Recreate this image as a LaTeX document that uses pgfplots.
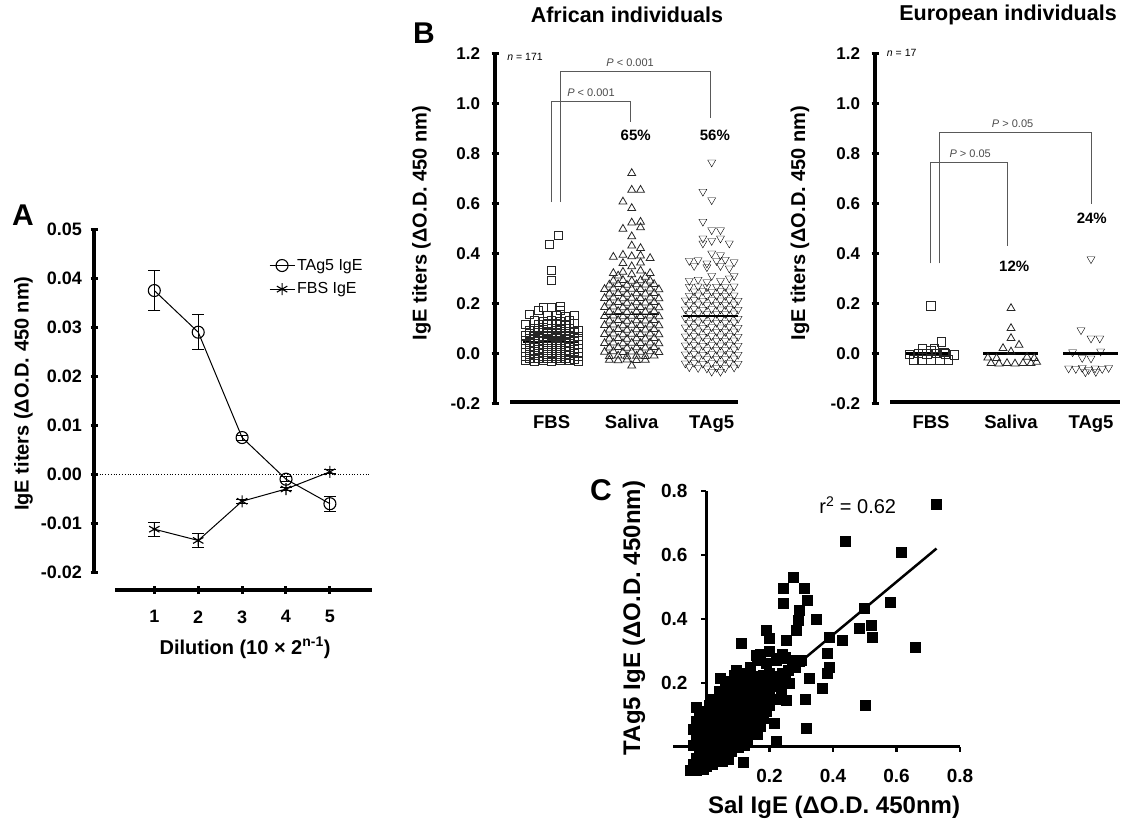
\documentclass[border=0pt]{standalone}
\usepackage{fontspec}
\setmainfont{Liberation Sans}
\usepackage{pgfplots}
\pgfplotsset{compat=1.18}

\newcommand{\tickfont}{\fontsize{17}{20}\selectfont\bfseries}
\newcommand{\labfont}{\fontsize{20}{24}\selectfont\bfseries}
\newcommand{\titfont}{\fontsize{21.5}{25}\selectfont\bfseries}
\newcommand{\catfont}{\fontsize{18.5}{22}\selectfont\bfseries}
\newcommand{\pfont}{\fontsize{11}{13}\selectfont\color{black!70}}
\colorlet{brk}{black!65}

\pgfplotsset{
  prism/.style={
    scale only axis, clip=false,
    /pgf/number format/assume math mode=true,
    axis line style={line width=4.5pt, black},
    tick style={black, line width=3pt},
    major tick length=7pt,
    tick align=outside,
    tick label style={font=\tickfont},
    label style={font=\labfont},
    scaled ticks=false,
  },
  noarrows/.style={
    every outer x axis line/.append style={-},
    every inner x axis line/.append style={-},
    every outer y axis line/.append style={-},
    every inner y axis line/.append style={-},
  },
  xline/.style={prism, hide y axis, axis x line=bottom, height=10pt, ymin=0, ymax=1},
  dots/.style={only marks, mark options={line width=0.8pt, draw=black!85, fill=none}},
}

\begin{document}
\begin{tikzpicture}[x=1pt,y=1pt]
\useasboundingbox (0,0) rectangle (1132,828);
\fill[white] (0,0) rectangle (1132,828);

% ---------------- panel A
\begin{axis}[prism, at={(94pt,255.7pt)}, width=278pt, height=343pt,
  xmin=-0.374, xmax=5.959, ymin=-0.02, ymax=0.05,
  hide x axis, axis y line=left,
  ytick={-0.02,-0.01,0,0.01,0.02,0.03,0.04,0.05},
  yticklabel style={font=\fontsize{18}{21}\selectfont\bfseries, xshift=-5pt,
    /pgf/number format/.cd, fixed, fixed zerofill, precision=2},
  ylabel={IgE titers (ΔO.D. 450 nm)},
  ylabel style={at={(rel axis cs:-0.254,0.521)}, anchor=center},
  legend style={draw=none, fill=none, at={(rel axis cs:0.629,0.919)}, anchor=north west,
    font=\fontsize{16}{19}\selectfont, row sep=7pt, inner sep=0pt},
  legend cell align=left,
  legend image code/.code={\draw[mark repeat=2,mark phase=2,#1] plot coordinates {(0pt,0pt) (12.5pt,0pt) (25pt,0pt)};},
  noarrows]
\addplot[black, line width=1pt, mark=o, mark size=6pt, mark options={fill=white, line width=1.1pt},
  error bars/.cd, y dir=both, y explicit,
  error bar style={line width=1pt},
  error mark options={rotate=90, mark size=6pt, line width=1pt}]
  coordinates {(1,0.0375) +- (0,0.0041) (2,0.029) +- (0,0.0036) (3,0.0075) +- (0,0.0005)
               (4,-0.001) +- (0,0.0005) (5,-0.006) +- (0,0.0015)};
\addlegendentry{TAg5 IgE}
\addplot[black, line width=1pt, mark=asterisk, mark size=6pt, mark options={line width=1.1pt},
  error bars/.cd, y dir=both, y explicit,
  error bar style={line width=1pt},
  error mark options={rotate=90, mark size=6pt, line width=1pt}]
  coordinates {(1,-0.0112) +- (0,0.0014) (2,-0.0135) +- (0,0.0014) (3,-0.0055) +- (0,0.0004)
               (4,-0.003) +- (0,0.0004) (5,0.0005) +- (0,0.0004)};
\addlegendentry{FBS IgE}
\addplot[black, dotted, line width=0.8pt, forget plot] coordinates {(-0.374,0) (5.91,0)};
\end{axis}

\begin{axis}[xline, at={(115pt,238pt)}, width=257pt, xmin=0.105, xmax=5.959,
  xtick={1,2,3,4,5}, major tick length=8pt,
  xticklabel style={font=\fontsize{18}{21}\selectfont\bfseries, yshift=-13pt},
  xlabel={Dilution (10 × 2\textsuperscript{n-1})},
  xlabel style={at={(rel axis cs:0.506,0)}, yshift=-58pt, anchor=center},
  noarrows]
\addplot[draw=none] coordinates {(1,0)};
\end{axis}

% ---------------- panel B, African
\begin{axis}[prism, at={(495pt,424.7pt)}, width=243pt, height=350pt,
  xmin=0.29, xmax=3.329, ymin=-0.2, ymax=1.2,
  hide x axis, axis y line=left,
  ytick={-0.2,0,0.2,0.4,0.6,0.8,1.0,1.2},
  yticklabel style={xshift=-8pt, /pgf/number format/.cd, fixed, fixed zerofill, precision=1},
  ylabel={IgE titers (ΔO.D. 450 nm)},
  ylabel style={at={(rel axis cs:-0.302,0.515)}, anchor=center},
  title={African individuals},
  title style={at={(rel axis cs:0.543,1.109)}, anchor=center, yshift=-6pt, font=\titfont},
  noarrows]
\addplot[dots, mark=square, mark size=4pt] coordinates {
(0.67,-0.028) (0.78,-0.031) (0.89,-0.029) (1.00,-0.032) (1.11,-0.030) (1.22,-0.028) (1.33,-0.031)
(0.72,-0.020) (0.83,-0.022) (0.94,-0.019) (1.06,-0.021) (1.17,-0.020) (1.28,-0.023)
(0.67,-0.012) (0.78,-0.010) (0.89,-0.013) (1.00,-0.011) (1.11,-0.012) (1.22,-0.010) (1.33,-0.013)
(0.72,-0.004) (0.83,-0.002) (0.94,-0.005) (1.06,-0.003) (1.17,-0.004) (1.28,-0.002)
(0.67,0.004) (0.78,0.006) (0.89,0.003) (1.00,0.005) (1.11,0.004) (1.22,0.006) (1.33,0.003)
(0.72,0.012) (0.83,0.014) (0.94,0.011) (1.06,0.013) (1.17,0.012) (1.28,0.014)
(0.67,0.020) (0.78,0.022) (0.89,0.019) (1.00,0.021) (1.11,0.020) (1.22,0.022) (1.33,0.019)
(0.72,0.028) (0.83,0.030) (0.94,0.027) (1.06,0.029) (1.17,0.028) (1.28,0.030)
(0.67,0.036) (0.78,0.038) (0.89,0.035) (1.00,0.037) (1.11,0.036) (1.22,0.038) (1.33,0.035)
(0.72,0.044) (0.83,0.046) (0.94,0.043) (1.06,0.045) (1.17,0.044) (1.28,0.046)
(0.67,0.052) (0.78,0.054) (0.89,0.051) (1.00,0.053) (1.11,0.052) (1.22,0.054) (1.33,0.051)
(0.72,0.061) (0.83,0.063) (0.94,0.060) (1.06,0.062) (1.17,0.061) (1.28,0.063)
(0.67,0.070) (0.78,0.072) (0.89,0.069) (1.00,0.071) (1.11,0.070) (1.22,0.072) (1.33,0.069)
(0.72,0.080) (0.83,0.082) (0.94,0.079) (1.06,0.081) (1.17,0.080) (1.28,0.082)
(0.72,0.090) (0.83,0.092) (0.94,0.088) (1.06,0.091) (1.17,0.089) (1.33,0.090)
(0.78,0.100) (0.89,0.102) (1.00,0.099) (1.11,0.101) (1.22,0.100)
(0.67,0.115) (0.83,0.117) (0.94,0.114) (1.06,0.116) (1.17,0.113) (1.28,0.118)
(0.78,0.130) (0.89,0.128) (1.00,0.132) (1.11,0.129) (1.22,0.131)
(0.72,0.155) (0.94,0.150) (1.06,0.152) (1.17,0.148) (1.28,0.153)
(0.83,0.170) (1.11,0.172) (0.89,0.185) (1.00,0.183) (1.11,0.187)
(1.00,0.290) (1.00,0.330) (0.97,0.435) (1.08,0.470)};
\addplot[dots, mark=triangle, mark size=4.6pt] coordinates {
(2.00,-0.050)
(1.72,-0.027) (1.83,-0.029) (1.94,-0.026) (2.06,-0.028) (2.17,-0.027)
(1.72,-0.012) (1.83,-0.010) (1.94,-0.013) (2.06,-0.011) (2.17,-0.012) (2.28,-0.010)
(1.66,0.005) (1.77,0.007) (1.89,0.004) (2.00,0.006) (2.11,0.005) (2.23,0.007) (2.34,0.004)
(1.72,0.022) (1.83,0.024) (1.94,0.021) (2.06,0.023) (2.17,0.022) (2.28,0.024)
(1.66,0.040) (1.77,0.042) (1.89,0.039) (2.00,0.041) (2.11,0.040) (2.23,0.042) (2.34,0.039)
(1.72,0.058) (1.83,0.060) (1.94,0.057) (2.06,0.059) (2.17,0.058) (2.28,0.060)
(1.66,0.076) (1.77,0.078) (1.89,0.075) (2.00,0.077) (2.11,0.076) (2.23,0.078) (2.34,0.075)
(1.72,0.094) (1.83,0.096) (1.94,0.093) (2.06,0.095) (2.17,0.094) (2.28,0.096)
(1.66,0.112) (1.77,0.114) (1.89,0.111) (2.00,0.113) (2.11,0.112) (2.23,0.114) (2.34,0.111)
(1.72,0.130) (1.83,0.132) (1.94,0.129) (2.06,0.131) (2.17,0.130) (2.28,0.132)
(1.66,0.148) (1.77,0.150) (1.89,0.147) (2.00,0.149) (2.11,0.148) (2.23,0.150) (2.34,0.147)
(1.72,0.166) (1.83,0.168) (1.94,0.165) (2.06,0.167) (2.17,0.166) (2.28,0.168)
(1.66,0.184) (1.77,0.186) (1.89,0.183) (2.00,0.185) (2.11,0.184) (2.23,0.186) (2.34,0.183)
(1.72,0.202) (1.83,0.204) (1.94,0.201) (2.06,0.203) (2.17,0.202) (2.28,0.204)
(1.66,0.220) (1.77,0.222) (1.89,0.219) (2.00,0.221) (2.11,0.220) (2.23,0.222) (2.34,0.219)
(1.72,0.238) (1.83,0.240) (1.94,0.237) (2.06,0.239) (2.17,0.238) (2.28,0.240)
(1.66,0.256) (1.77,0.258) (1.89,0.255) (2.00,0.257) (2.11,0.256) (2.23,0.258) (2.34,0.255)
(1.72,0.274) (1.83,0.276) (1.94,0.273) (2.06,0.275) (2.17,0.274) (2.28,0.276)
(1.77,0.290) (1.89,0.292) (2.00,0.289) (2.11,0.291) (2.23,0.290)
(1.83,0.310) (2.00,0.315) (2.17,0.305)
(1.77,0.320) (1.89,0.325) (2.11,0.330) (2.23,0.320) (2.00,0.347) (1.89,0.360) (2.11,0.362)
(1.77,0.385) (1.89,0.393) (2.00,0.387) (2.11,0.390) (2.23,0.380) (2.00,0.430) (2.11,0.420)
(2.00,0.467) (1.89,0.497) (2.00,0.522) (2.11,0.525) (2.11,0.503) (2.00,0.580) (1.89,0.606)
(2.00,0.653) (2.11,0.653) (2.00,0.720)};
\addplot[dots, mark=triangle, mark size=4.6pt, mark options={rotate=180}] coordinates {
(3.00,-0.073) (3.11,-0.073)
(2.72,-0.055) (2.83,-0.058) (2.94,-0.060) (3.06,-0.057) (3.17,-0.059) (3.28,-0.056)
(2.67,-0.040) (2.78,-0.038) (2.89,-0.041) (3.00,-0.039) (3.11,-0.040) (3.22,-0.038) (3.33,-0.041)
(2.72,-0.022) (2.83,-0.020) (2.94,-0.023) (3.06,-0.021) (3.17,-0.022) (3.28,-0.020)
(2.67,-0.004) (2.78,-0.002) (2.89,-0.005) (3.00,-0.003) (3.11,-0.004) (3.22,-0.002) (3.33,-0.005)
(2.72,0.014) (2.83,0.016) (2.94,0.013) (3.06,0.015) (3.17,0.014) (3.28,0.016)
(2.67,0.032) (2.78,0.034) (2.89,0.031) (3.00,0.033) (3.11,0.032) (3.22,0.034) (3.33,0.031)
(2.72,0.050) (2.83,0.052) (2.94,0.049) (3.06,0.051) (3.17,0.050) (3.28,0.052)
(2.67,0.068) (2.78,0.070) (2.89,0.067) (3.00,0.069) (3.11,0.068) (3.22,0.070) (3.33,0.067)
(2.72,0.086) (2.83,0.088) (2.94,0.085) (3.06,0.087) (3.17,0.086) (3.28,0.088)
(2.67,0.104) (2.78,0.106) (2.89,0.103) (3.00,0.105) (3.11,0.104) (3.22,0.106) (3.33,0.103)
(2.72,0.122) (2.83,0.124) (2.94,0.121) (3.06,0.123) (3.17,0.122) (3.28,0.124)
(2.67,0.140) (2.78,0.142) (2.89,0.139) (3.00,0.141) (3.11,0.140) (3.22,0.142) (3.33,0.139)
(2.72,0.158) (2.83,0.160) (2.94,0.157) (3.06,0.159) (3.17,0.158) (3.28,0.160)
(2.67,0.176) (2.78,0.178) (2.89,0.175) (3.00,0.177) (3.11,0.176) (3.22,0.178) (3.33,0.175)
(2.72,0.194) (2.83,0.196) (2.94,0.193) (3.06,0.195) (3.17,0.194) (3.28,0.196)
(2.67,0.212) (2.78,0.214) (2.89,0.211) (3.00,0.213) (3.11,0.212) (3.22,0.214) (3.33,0.211)
(2.72,0.230) (2.83,0.232) (2.94,0.229) (3.06,0.231) (3.17,0.230) (3.28,0.232)
(2.78,0.248) (2.89,0.250) (3.00,0.247) (3.11,0.249) (3.22,0.248)
(2.72,0.266) (2.83,0.268) (2.94,0.265) (3.06,0.267) (3.17,0.266) (3.28,0.268)
(2.72,0.290) (2.83,0.295) (2.94,0.285) (3.11,0.290) (3.22,0.300) (3.00,0.310) (3.28,0.310)
(2.78,0.350) (2.94,0.345) (3.11,0.350) (3.22,0.340) (2.72,0.370) (2.83,0.373) (2.94,0.360)
(3.06,0.370) (3.17,0.375) (3.28,0.365) (3.00,0.400) (3.11,0.393) (2.89,0.440) (3.22,0.440)
(2.89,0.460) (3.00,0.450) (3.11,0.460) (3.00,0.493) (3.11,0.493) (2.89,0.527) (3.00,0.613)
(2.89,0.647) (3.00,0.764)};
% medians
\addplot[black, line width=1.8pt] coordinates {(0.64,0.046) (1.34,0.046)};
\addplot[black, line width=1.8pt] coordinates {(1.64,0.155) (2.34,0.155)};
\addplot[black, line width=1.8pt] coordinates {(2.64,0.15) (3.33,0.15)};
% brackets
\addplot[brk, line width=1pt] coordinates {(1.1125,0.605) (1.1125,1.127) (2.99,1.127) (2.99,0.94)};
\addplot[brk, line width=1pt] coordinates {(0.991,0.605) (0.991,1.006) (1.99,1.006) (1.99,0.926)};
\node[font=\pfont] at (axis cs:1.98,1.161) {\textit{P} < 0.001};
\node[font=\pfont] at (axis cs:1.49,1.041) {\textit{P} < 0.001};
\node[font=\fontsize{10.5}{12}\selectfont] at (axis cs:0.666,1.185) {\textit{n} = 171};
\node[font=\fontsize{15}{18}\selectfont\bfseries] at (axis cs:2.05,0.873) {65\%};
\node[font=\fontsize{15}{18}\selectfont\bfseries] at (axis cs:3.04,0.873) {56\%};
\end{axis}

\begin{axis}[xline, at={(510pt,426pt)}, width=228pt, xmin=0.479, xmax=3.329,
  xtick={1,2,3}, xticklabels={FBS,Saliva,TAg5}, major tick length=0pt,
  xticklabel style={font=\catfont, yshift=-10pt}, noarrows]
\addplot[draw=none] coordinates {(1,0)};
\end{axis}

% ---------------- panel B, European
\begin{axis}[prism, at={(875pt,424.7pt)}, width=245pt, height=350pt,
  xmin=0.3, xmax=3.3625, ymin=-0.2, ymax=1.2,
  hide x axis, axis y line=left,
  ytick={-0.2,0,0.2,0.4,0.6,0.8,1.0,1.2},
  yticklabel style={xshift=-8pt, /pgf/number format/.cd, fixed, fixed zerofill, precision=1},
  ylabel={IgE titers (ΔO.D. 450 nm)},
  ylabel style={at={(rel axis cs:-0.306,0.515)}, anchor=center},
  title={European individuals},
  title style={at={(rel axis cs:0.543,1.109)}, anchor=center, yshift=-6pt, font=\titfont},
  noarrows]
\addplot[dots, mark=square, mark size=4.2pt] coordinates {
(1.00,0.190) (1.13,0.045) (0.89,0.018) (1.00,0.012) (1.04,0.020) (0.73,-0.004) (0.84,0.000)
(0.95,-0.002) (1.07,0.000) (1.16,0.004) (1.18,-0.003) (1.29,-0.006) (0.78,-0.027) (0.89,-0.027)
(1.00,-0.027) (1.11,-0.027) (1.22,-0.027)};
\addplot[dots, mark=triangle, mark size=4.6pt] coordinates {
(2.00,0.180) (2.00,0.100) (2.00,0.060) (2.10,0.033) (1.90,0.020) (2.00,0.006) (1.71,-0.018)
(1.82,-0.020) (2.20,-0.015) (2.29,-0.020) (1.75,-0.040) (1.85,-0.042) (1.95,-0.040)
(2.05,-0.042) (2.15,-0.040) (2.25,-0.040) (2.32,-0.035)};
\addplot[dots, mark=triangle, mark size=4.6pt, mark options={rotate=180}] coordinates {
(3.00,0.377) (2.875,0.093) (3.00,0.060) (3.11,0.060) (2.77,0.005) (3.12,0.008) (2.89,-0.018)
(3.00,-0.020) (2.72,-0.060) (2.81,-0.062) (2.89,-0.058) (2.97,-0.066) (3.05,-0.060)
(3.14,-0.062) (3.22,-0.058) (2.93,-0.075) (3.06,-0.074)};
\addplot[black, line width=2.5pt] coordinates {(0.675,0) (1.23,0)};
\addplot[black, line width=2.5pt] coordinates {(1.654,0) (2.34,0)};
\addplot[black, line width=2.5pt] coordinates {(2.65,0) (3.34,0)};
\addplot[brk, line width=1pt] coordinates {(1.104,0.36) (1.104,0.884) (3.0,0.884) (3.0,0.597)};
\addplot[brk, line width=1pt] coordinates {(0.99,0.36) (0.99,0.763) (1.96,0.763) (1.96,0.43)};
\node[font=\pfont] at (axis cs:2.02,0.917) {\textit{P} > 0.05};
\node[font=\pfont] at (axis cs:1.49,0.797) {\textit{P} > 0.05};
\node[font=\fontsize{10.5}{12}\selectfont] at (axis cs:0.634,1.2) {\textit{n} = 17};
\node[font=\fontsize{15}{18}\selectfont\bfseries] at (axis cs:2.04,0.347) {12\%};
\node[font=\fontsize{15}{18}\selectfont\bfseries] at (axis cs:3.01,0.54) {24\%};
\end{axis}

\begin{axis}[xline, at={(890pt,426pt)}, width=230pt, xmin=0.4875, xmax=3.3625,
  xtick={1,2,3}, xticklabels={FBS,Saliva,TAg5}, major tick length=0pt,
  xticklabel style={font=\catfont, yshift=-10pt}, noarrows]
\addplot[draw=none] coordinates {(1,0)};
\end{axis}

% ---------------- panel C
\begin{axis}[scale only axis, clip=false, at={(673pt,81.3pt)}, width=287pt, height=255.7pt,
  /pgf/number format/assume math mode=true,
  xmin=-0.104, xmax=0.8, ymin=0, ymax=0.8,
  axis lines=middle, axis line style={line width=3pt, black},
  xtick={0.2,0.4,0.6,0.8}, ytick={0.2,0.4,0.6,0.8},
  tick align=outside, major tick length=5pt, tick style={black, line width=2.5pt},
  tick label style={font=\fontsize{19}{22}\selectfont\bfseries},
  xticklabel style={yshift=-14pt}, yticklabel style={xshift=-10pt},
  xlabel={Sal IgE (ΔO.D. 450nm)}, ylabel={TAg5 IgE (ΔO.D. 450nm)},
  label style={font=\fontsize{24}{28}\selectfont\bfseries},
  xlabel style={at={(rel axis cs:0.561,-0.236)}, anchor=center},
  ylabel style={at={(rel axis cs:-0.136,0.503)}, anchor=center, rotate=90},
  noarrows]
\addplot[only marks, mark=square*, mark size=5pt, black] coordinates {
(-0.05,-0.075) (-0.03,-0.075) (-0.01,-0.07) (-0.04,-0.055) (-0.02,-0.05) (0.0,-0.06) (0.02,-0.055)
(-0.03,-0.035) (-0.01,-0.03) (0.01,-0.035) (0.03,-0.04) (0.05,-0.045) (0.07,-0.04)
(-0.02,-0.015) (0.0,-0.01) (0.02,-0.015) (0.04,-0.02) (0.06,-0.02) (0.08,-0.015)
(-0.04,0.005) (-0.02,0.01) (0.0,0.01) (0.02,0.005) (0.04,0.0) (0.06,0.005) (0.08,0.01) (0.1,0.0) (0.12,0.005)
(-0.03,0.03) (-0.01,0.035) (0.01,0.03) (0.03,0.025) (0.05,0.03) (0.07,0.03) (0.09,0.025) (0.11,0.03) (0.13,0.02)
(-0.04,0.055) (-0.02,0.06) (0.0,0.055) (0.02,0.05) (0.04,0.055) (0.06,0.05) (0.08,0.055) (0.1,0.05) (0.12,0.045) (0.14,0.05) (0.16,0.04)
(-0.03,0.08) (-0.01,0.085) (0.01,0.08) (0.03,0.075) (0.05,0.08) (0.07,0.075) (0.09,0.08) (0.11,0.075) (0.13,0.07) (0.15,0.075) (0.17,0.065)
(-0.02,0.105) (0.0,0.11) (0.02,0.1) (0.04,0.105) (0.06,0.1) (0.08,0.105) (0.1,0.1) (0.12,0.095) (0.14,0.1) (0.16,0.095) (0.18,0.09)
(-0.03,0.125) (0.01,0.13) (0.03,0.125) (0.05,0.13) (0.07,0.125) (0.09,0.13) (0.11,0.125) (0.13,0.12) (0.15,0.125) (0.17,0.12) (0.19,0.11)
(0.02,0.15) (0.04,0.155) (0.06,0.15) (0.08,0.155) (0.1,0.15) (0.12,0.145) (0.14,0.15) (0.16,0.145) (0.18,0.14) (0.2,0.13)
(0.04,0.175) (0.06,0.18) (0.08,0.175) (0.1,0.18) (0.12,0.17) (0.14,0.175) (0.16,0.17) (0.18,0.165) (0.2,0.16) (0.22,0.15)
(0.06,0.2) (0.08,0.205) (0.1,0.2) (0.12,0.195) (0.14,0.2) (0.17,0.195) (0.19,0.2) (0.21,0.19) (0.23,0.2) (0.25,0.21)
(0.09,0.225) (0.12,0.23) (0.15,0.22) (0.18,0.225) (0.21,0.22) (0.24,0.23) (0.26,0.24) (0.28,0.25)
(0.14,0.25) (0.16,0.27) (0.19,0.26) (0.22,0.27) (0.25,0.28) (0.27,0.27) (0.3,0.27) (0.17,0.29) (0.2,0.3) (0.24,0.29)
(0.726,0.760) (0.438,0.644) (0.614,0.609) (0.580,0.453) (0.497,0.432) (0.481,0.370) (0.521,0.380)
(0.523,0.344) (0.658,0.310) (0.502,0.130) (0.429,0.333) (0.388,0.344) (0.382,0.292) (0.388,0.250)
(0.382,0.229) (0.367,0.182) (0.348,0.398) (0.325,0.214) (0.313,0.148) (0.315,0.057) (0.275,0.529)
(0.242,0.495) (0.309,0.495) (0.319,0.458) (0.294,0.427) (0.289,0.396) (0.283,0.365) (0.242,0.448)
(0.252,0.333) (0.190,0.365) (0.200,0.339) (0.221,0.276) (0.242,0.276) (0.294,0.266) (0.221,0.016)
(0.117,-0.047) (0.111,0.323) (0.158,0.286) (0.200,0.229) (0.236,0.177) (0.252,0.146) (0.216,0.073)
(0.179,0.115) (0.263,0.198) (0.044,0.214) (0.096,0.240)};
\addplot[black, line width=2.5pt] coordinates {(0.02,0.036) (0.726,0.62)};
\node[font=\fontsize{20}{24}\selectfont] at (axis cs:0.478,0.755) {r\textsuperscript{2} = 0.62};
\end{axis}

% panel letters
\node[font=\fontsize{30}{30}\selectfont\bfseries] at (23,613) {A};
\node[font=\fontsize{30}{30}\selectfont\bfseries] at (424,795) {B};
\node[font=\fontsize{30}{30}\selectfont\bfseries] at (601,338) {C};
\end{tikzpicture}
\end{document}
